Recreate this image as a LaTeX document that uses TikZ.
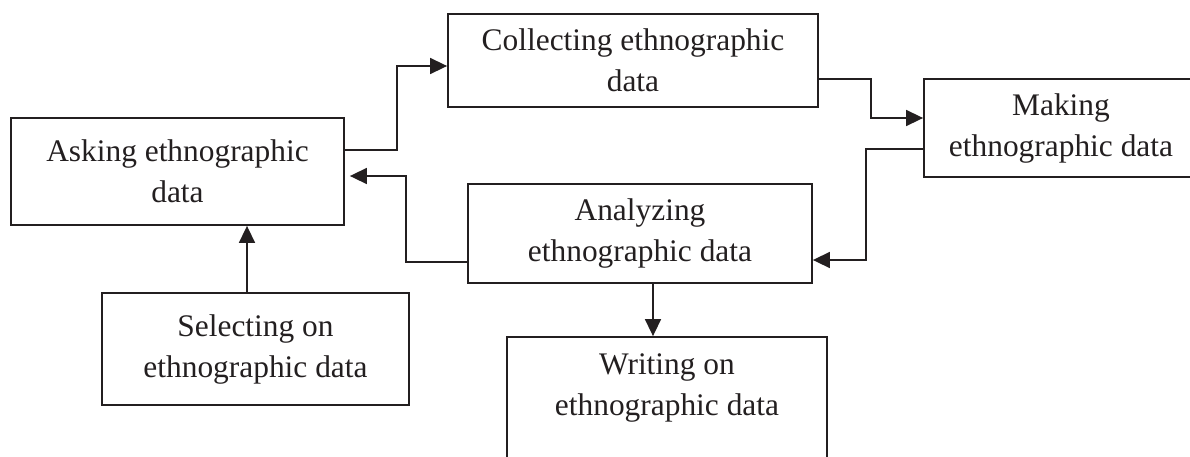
\documentclass[tikz,border=0pt]{standalone}
\usepackage{fontspec}
\setmainfont{Liberation Serif}
\usetikzlibrary{arrows.meta,calc}
\definecolor{ink}{HTML}{231F20}
\begin{document}
\begin{tikzpicture}[x=0.5pt,y=-0.5pt,
  box/.style={draw=ink,line width=0.9pt,inner sep=0pt,align=center,font=\fontsize{15.7}{20.5}\selectfont,text=ink},
  txt/.style={inner sep=0pt,align=center,font=\fontsize{15.7}{20.5}\selectfont,text=ink},
  conn/.style={draw=ink,line width=0.8pt,-{Triangle[length=8.5pt,width=8pt]}}]
\useasboundingbox (0,0) rectangle (1190,456);
\clip (0,0) rectangle (1190,456);
\node[box,minimum width=166.5pt,minimum height=53.5pt] (ask) at (177.5,171.5) {Asking ethnographic\\data};
\node[box,minimum width=185pt,minimum height=46.5pt] (coll) at (633,60.5) {Collecting ethnographic\\data};
\node[box,minimum width=137pt,minimum height=49pt] (make) at (1061,128) {Making\\ethnographic data};
\node[box,minimum width=172pt,minimum height=49.5pt] (ana) at (640,233.5) {Analyzing\\ethnographic data};
\node[box,minimum width=153.5pt,minimum height=56pt] (sel) at (255.5,349) {Selecting on\\ethnographic data};
\node[box,minimum width=160pt,minimum height=71.5pt] (write) at (667,408.5) {};
\node[txt] (writetxt) at (667,388) {Writing on\\ethnographic data};
\draw[conn] ($(ask.east)+(0,-21.5)$) -- ++(52,0) |- ($(coll.west)+(0,5.5)$);
\draw[conn] ($(coll.east)+(0,18.5)$) -- ++(52,0) |- ($(make.west)+(0,-10)$);
\draw[conn] ($(make.west)+(0,21)$) -- ++(-57,0) |- ($(ana.east)+(0,26.5)$);
\draw[conn,shorten >=2.5pt] ($(ana.west)+(0,28.5)$) -- ++(-61,0) |- ($(ask.east)+(0,4.5)$);
\draw[conn] ($(ana.south)+(13,0)$) -- ($(write.north)+(-14,0)$);
\draw[conn] ($(sel.north)+(-8.5,0)$) -- ($(ask.south)+(69.5,0)$);
\end{tikzpicture}
\end{document}
